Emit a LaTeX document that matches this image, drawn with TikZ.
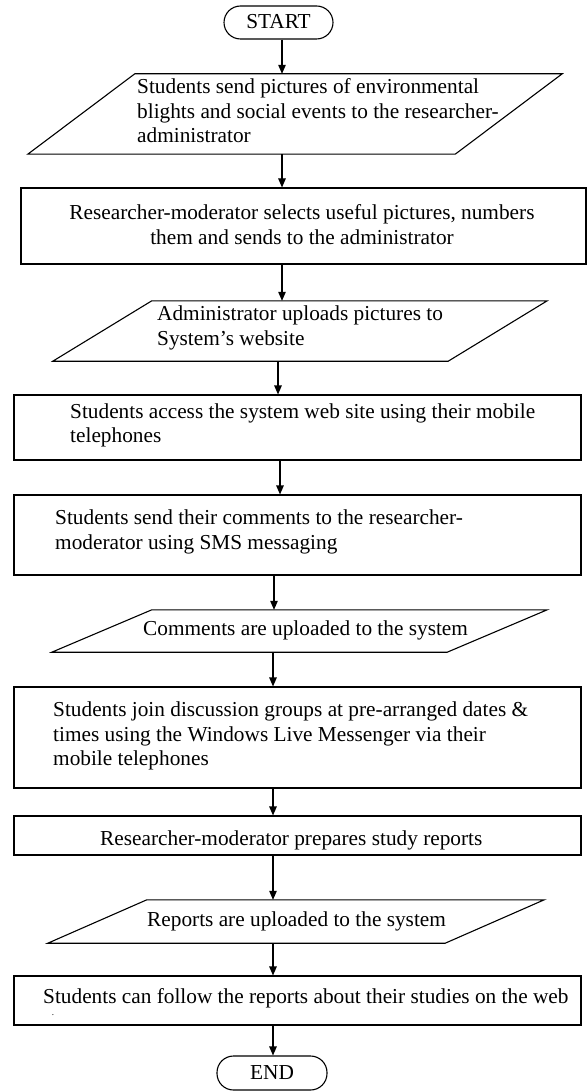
\documentclass[tikz,border=0pt]{standalone}
\usepackage{fontspec}
\setmainfont{Liberation Serif}
\usetikzlibrary{arrows.meta}
\begin{document}
\begin{tikzpicture}[x=1pt,y=-1pt,
  shp/.style={draw=black, line width=1.1pt, fill=white},
  boxn/.style={draw=black, line width=1.1pt, rectangle, inner sep=0pt, fill=white},
  term/.style={boxn, rounded corners=16.5pt},
  paran/.style={rectangle, inner sep=0pt, draw=none},
  txt/.style={inner sep=0pt, align=left, anchor=west, font=\fontsize{21.3}{24.5}\selectfont},
  ctxt/.style={inner sep=0pt, align=center, anchor=center, font=\fontsize{21.3}{24.5}\selectfont},
  arr/.style={-{Triangle[length=9pt,width=7.5pt]}, line width=1.1pt}]
\useasboundingbox (0,0) rectangle (587,1091);
\fill[white] (0,0) rectangle (587,1091);
% shapes
\node[term, minimum width=109pt, minimum height=33pt] (start) at (278.5,22.5) {};
\node[paran, minimum width=534pt, minimum height=80pt] (p1) at (295,114) {};
\draw[shp] (p1.south west) -- ([xshift=107pt]p1.north west) -- (p1.north east) -- ([xshift=-107pt]p1.south east) -- cycle;
\node[boxn, minimum width=565pt, minimum height=76pt] (b2) at (303.5,226) {};
\node[paran, minimum width=494pt, minimum height=60pt] (p2) at (300,331) {};
\draw[shp] (p2.south west) -- ([xshift=99pt]p2.north west) -- (p2.north east) -- ([xshift=-99pt]p2.south east) -- cycle;
\node[boxn, minimum width=567pt, minimum height=65pt] (b3) at (297.5,427.5) {};
\node[boxn, minimum width=567pt, minimum height=80pt] (b4) at (297.5,535) {};
\node[paran, minimum width=495pt, minimum height=42pt] (p3) at (299.5,631) {};
\draw[shp] (p3.south west) -- ([xshift=100pt]p3.north west) -- (p3.north east) -- ([xshift=-100pt]p3.south east) -- cycle;
\node[boxn, minimum width=567pt, minimum height=101pt] (b5) at (297.5,737.5) {};
\node[boxn, minimum width=567pt, minimum height=39pt] (b6) at (297.5,835.5) {};
\node[paran, minimum width=496pt, minimum height=43pt] (p4) at (296,921.5) {};
\draw[shp] (p4.south west) -- ([xshift=99pt]p4.north west) -- (p4.north east) -- ([xshift=-99pt]p4.south east) -- cycle;
\node[boxn, minimum width=567pt, minimum height=49pt] (b7) at (297.5,1000.5) {};
\node[term, minimum width=110pt, minimum height=34pt] (end) at (272,1073) {};
% texts
\node[ctxt] (tstart) at (278.5,22) {START};
\node[txt] (t1) at (137,111) {Students send pictures of environmental\\blights and social events to the researcher-\\administrator};
\node[ctxt] (t2) at (302,224.5) {Researcher-moderator selects useful pictures, numbers\\them and sends to the administrator};
\node[txt] (t3) at (157,328) {Administrator uploads pictures to\\System’s website};
\node[txt] (t4) at (70,425.5) {Students access the system web site using their mobile\\telephones};
\node[txt] (t5) at (55,532) {Students send their comments to the researcher-\\moderator using SMS messaging};
\node[txt] (t6) at (143,630) {Comments are uploaded to the system};
\node[txt] (t7) at (53,736) {Students join discussion groups at pre-arranged dates \&\\times using the Windows Live Messenger via their\\mobile telephones};
\node[txt] (t8) at (100,840) {Researcher-moderator prepares study reports};
\node[txt] (t9) at (147,921) {Reports are uploaded to the system};
\node[txt] (t10) at (43,998) {Students can follow the reports about their studies on the web};
\node[inner sep=0pt, font=\fontsize{9}{9}\selectfont] (t10b) at (53,1015) {.};
\node[ctxt] (tend) at (272,1073) {END};
% arrow columns
\coordinate (ca) at (282,0);
\coordinate (cb) at (278,0);
\coordinate (cc) at (280,0);
\coordinate (cd) at (274,0);
\coordinate (ce) at (273,0);
\draw[arr] (start.south -| ca) -- (p1.north -| ca);
\draw[arr] (p1.south -| ca) -- (b2.north -| ca);
\draw[arr] (b2.south -| ca) -- (p2.north -| ca);
\draw[arr] (p2.south -| cb) -- (b3.north -| cb);
\draw[arr] (b3.south -| cc) -- (b4.north -| cc);
\draw[arr] (b4.south -| cd) -- (p3.north -| cd);
\draw[arr] (p3.south -| ce) -- (b5.north -| ce);
\draw[arr] (b5.south -| ce) -- (b6.north -| ce);
\draw[arr] (b6.south -| ce) -- (p4.north -| ce);
\draw[arr] (p4.south -| ce) -- (b7.north -| ce);
\draw[arr] (b7.south -| ce) -- (end.north -| ce);
\end{tikzpicture}
\end{document}
